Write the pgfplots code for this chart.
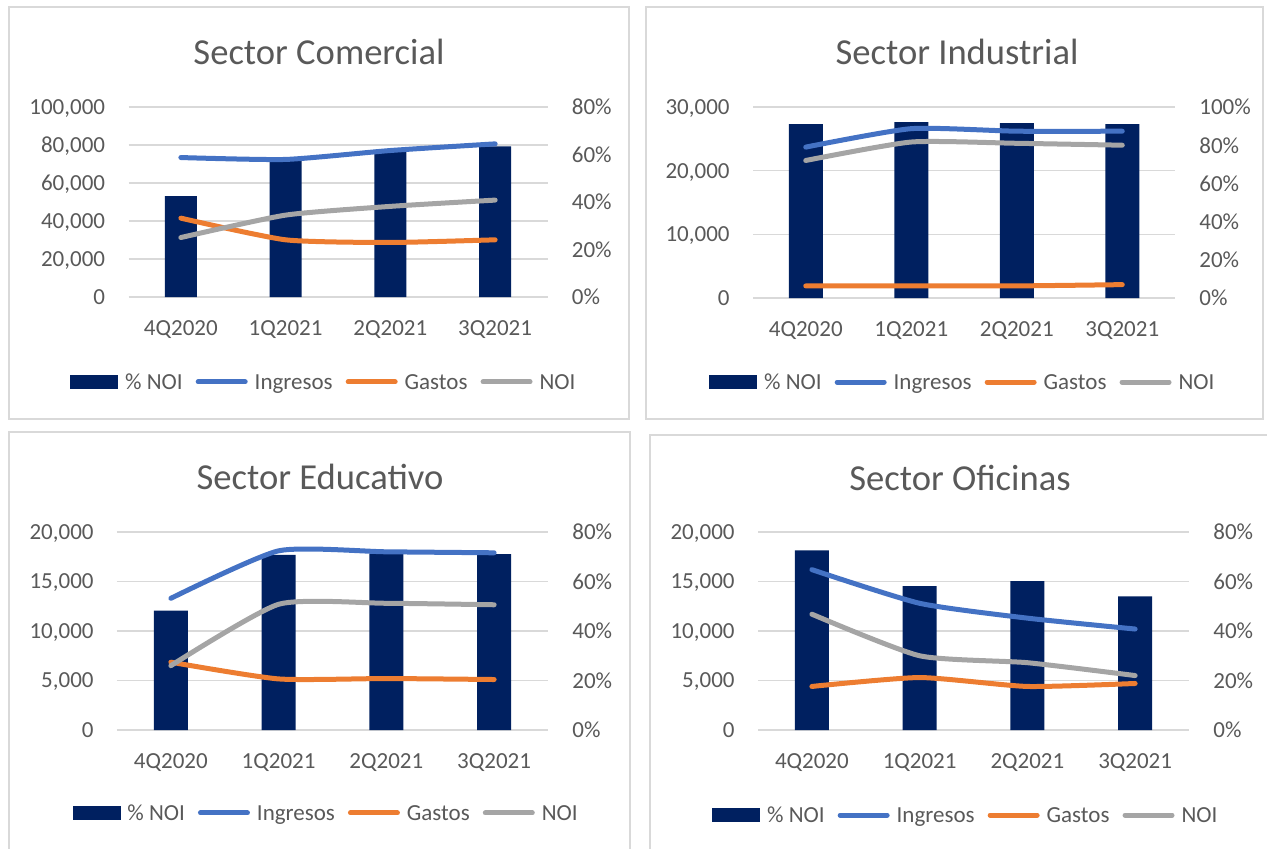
\documentclass[border=0pt]{standalone}
\usepackage{fontspec}
\setmainfont{Carlito}
\usepackage{pgfplots}
\usepackage{pgfplotstable}
\pgfplotsset{compat=1.18}

\definecolor{navy}{HTML}{002060}
\definecolor{ingc}{HTML}{4472C4}
\definecolor{gasc}{HTML}{ED7D31}
\definecolor{noic}{HTML}{A5A5A5}
\definecolor{txt}{HTML}{595959}
\definecolor{grd}{HTML}{D9D9D9}

% x: 0=4Q2020 1=1Q2021 2=2Q2021 3=3Q2021 ; pct on right axis, the rest on left axis
\pgfplotstableread{
x pct ing gas noi
0 42.5 73400 41500 31300
1 58.5 72400 30100 43100
2 62.0 77100 28700 47700
3 63.4 80600 30100 51000
}\comercial
\pgfplotstableread{
x pct ing gas noi
0 91.0 23700 1900 21600
1 92.1 26600 1900 24500
2 91.6 26200 1900 24300
3 91.0 26200 2100 24000
}\industrial
\pgfplotstableread{
x pct ing gas noi
0 48.2 13300 6850 6500
1 70.8 18100 5160 12700
2 71.4 18000 5200 12800
3 71.1 17900 5100 12650
}\educativo
\pgfplotstableread{
x pct ing gas noi
0 72.6 16200 4400 11700
1 58.1 12800 5300 7500
2 60.2 11300 4400 6800
3 54.0 10200 4700 5500
}\oficinas

\newcommand{\lbl}{\fontsize{11.5}{13}\selectfont}
\newcommand{\ttl}{\fontsize{18.3}{20}\selectfont}

\pgfplotsset{
  base/.style={scale only axis, anchor=south west, xmin=-0.5, xmax=3.5, ymin=0,
    axis line style={draw=none}, major tick length=0pt, scaled y ticks=false,
    tick label style={font=\lbl, text=txt, inner sep=0pt, text depth=0pt}},
  gridax/.style={base, xtick={0,1,2,3}, xticklabels={4Q2020,1Q2021,2Q2021,3Q2021},
    ymajorgrids, grid style={grd, line width=0.75pt},
    xticklabel style={yshift=-11.8pt}, yticklabel style={xshift=-11.5pt}},
  barax/.style={base, xtick=\empty, yticklabel pos=right,
    yticklabel style={xshift=12pt}, ybar, bar width=16pt},
  lineax/.style={base, xtick=\empty, ytick=\empty,
    legend columns=-1, legend cell align=left,
    legend style={draw=none, fill=none, anchor=center, font=\lbl, text=txt,
      inner sep=0pt, nodes={inner sep=0pt, text depth=0pt},
      /tikz/every odd column/.append style={column sep=3.5pt},
      /tikz/every even column/.append style={column sep=6.5pt}},
    legend image code/.code={\draw[##1] (1.25pt,0pt) -- (24.75pt,0pt);}},
  ln/.style={line width=2.5pt, line cap=round, smooth, tension=0.35},
}

\begin{document}
\begin{tikzpicture}
\useasboundingbox (0pt,0pt) rectangle (633.5pt,424pt);

% panel frames
\draw[grd, line width=0.75pt] (4.5pt,420.5pt) rectangle (314.5pt,214.5pt);
\draw[grd, line width=0.75pt] (323pt,420.5pt) rectangle (631.5pt,214.5pt);
\draw[grd, line width=0.75pt] (4.5pt,208pt) rectangle (315pt,-5pt);
\draw[grd, line width=0.75pt] (325pt,206.5pt) rectangle (640pt,-5pt);

% titles
\node[font=\ttl, text=txt] at (159.5pt,398pt) {Sector Comercial};
\node[font=\ttl, text=txt] at (478.5pt,398pt) {Sector Industrial};
\node[font=\ttl, text=txt] at (160pt,185.5pt) {Sector Educativo};
\node[font=\ttl, text=txt] at (480pt,185pt) {Sector Oficinas};

% ---------- Sector Comercial
\begin{axis}[gridax, at={(64.25pt,275.5pt)}, width=209.5pt, height=95pt, ymax=100000,
  ytick={0,20000,40000,60000,80000,100000},
  yticklabels={0,{20,000},{40,000},{60,000},{80,000},{100,000}}]
\end{axis}
\begin{axis}[barax, at={(64.25pt,275.5pt)}, width=209.5pt, height=95pt, ymax=80,
  ytick={0,20,40,60,80}, yticklabels={0\%,20\%,40\%,60\%,80\%}]
\addplot[fill=navy, draw=none] table[x=x,y=pct]{\comercial};
\end{axis}
\begin{axis}[lineax, at={(64.25pt,275.5pt)}, width=209.5pt, height=95pt, ymax=100000,
  legend style={at={(0.464,-0.447)}}]
\addlegendimage{legend image code/.code={\fill[navy] (0pt,-3.25pt) rectangle (23.5pt,3.25pt);}}
\addlegendentry{\% NOI}
\addplot[ln, ingc] table[x=x,y=ing]{\comercial}; \addlegendentry{Ingresos}
\addplot[ln, gasc] table[x=x,y=gas]{\comercial}; \addlegendentry{Gastos}
\addplot[ln, noic] table[x=x,y=noi]{\comercial}; \addlegendentry{NOI}
\end{axis}

% ---------- Sector Industrial
\begin{axis}[gridax, at={(376.5pt,275pt)}, width=211pt, height=95.5pt, ymax=30000,
  ytick={0,10000,20000,30000},
  yticklabels={0,{10,000},{20,000},{30,000}}]
\end{axis}
\begin{axis}[barax, at={(376.5pt,275pt)}, width=211pt, height=95.5pt, ymax=100,
  bar width=17pt,
  ytick={0,20,40,60,80,100}, yticklabels={0\%,20\%,40\%,60\%,80\%,100\%}]
\addplot[fill=navy, draw=none] table[x=x,y=pct]{\industrial};
\end{axis}
\begin{axis}[lineax, at={(376.5pt,275pt)}, width=211pt, height=95.5pt, ymax=30000,
  legend style={at={(0.495,-0.44)}}]
\addlegendimage{legend image code/.code={\fill[navy] (0pt,-3.25pt) rectangle (23.5pt,3.25pt);}}
\addlegendentry{\% NOI}
\addplot[ln, ingc] table[x=x,y=ing]{\industrial}; \addlegendentry{Ingresos}
\addplot[ln, gasc] table[x=x,y=gas]{\industrial}; \addlegendentry{Gastos}
\addplot[ln, noic] table[x=x,y=noi]{\industrial}; \addlegendentry{NOI}
\end{axis}

% ---------- Sector Educativo
\begin{axis}[gridax, at={(58.5pt,59pt)}, width=215.5pt, height=99pt, ymax=20000,
  ytick={0,5000,10000,15000,20000},
  yticklabels={0,{5,000},{10,000},{15,000},{20,000}}]
\end{axis}
\begin{axis}[barax, at={(58.5pt,59pt)}, width=215.5pt, height=99pt, ymax=80,
  bar width=17pt,
  ytick={0,20,40,60,80}, yticklabels={0\%,20\%,40\%,60\%,80\%}]
\addplot[fill=navy, draw=none] table[x=x,y=pct]{\educativo};
\end{axis}
\begin{axis}[lineax, at={(58.5pt,59pt)}, width=215.5pt, height=99pt, ymax=20000,
  legend style={at={(0.483,-0.419)}}]
\addlegendimage{legend image code/.code={\fill[navy] (0pt,-3.25pt) rectangle (23.5pt,3.25pt);}}
\addlegendentry{\% NOI}
\addplot[ln, ingc] table[x=x,y=ing]{\educativo}; \addlegendentry{Ingresos}
\addplot[ln, gasc] table[x=x,y=gas]{\educativo}; \addlegendentry{Gastos}
\addplot[ln, noic] table[x=x,y=noi]{\educativo}; \addlegendentry{NOI}
\end{axis}

% ---------- Sector Oficinas
\begin{axis}[gridax, at={(379pt,59pt)}, width=215.5pt, height=99pt, ymax=20000,
  ytick={0,5000,10000,15000,20000},
  yticklabels={0,{5,000},{10,000},{15,000},{20,000}}]
\end{axis}
\begin{axis}[barax, at={(379pt,59pt)}, width=215.5pt, height=99pt, ymax=80,
  bar width=17pt,
  ytick={0,20,40,60,80}, yticklabels={0\%,20\%,40\%,60\%,80\%}]
\addplot[fill=navy, draw=none] table[x=x,y=pct]{\oficinas};
\end{axis}
\begin{axis}[lineax, at={(379pt,59pt)}, width=215.5pt, height=99pt, ymax=20000,
  legend style={at={(0.48,-0.43)}}]
\addlegendimage{legend image code/.code={\fill[navy] (0pt,-3.25pt) rectangle (23.5pt,3.25pt);}}
\addlegendentry{\% NOI}
\addplot[ln, ingc] table[x=x,y=ing]{\oficinas}; \addlegendentry{Ingresos}
\addplot[ln, gasc] table[x=x,y=gas]{\oficinas}; \addlegendentry{Gastos}
\addplot[ln, noic] table[x=x,y=noi]{\oficinas}; \addlegendentry{NOI}
\end{axis}
\end{tikzpicture}
\end{document}
